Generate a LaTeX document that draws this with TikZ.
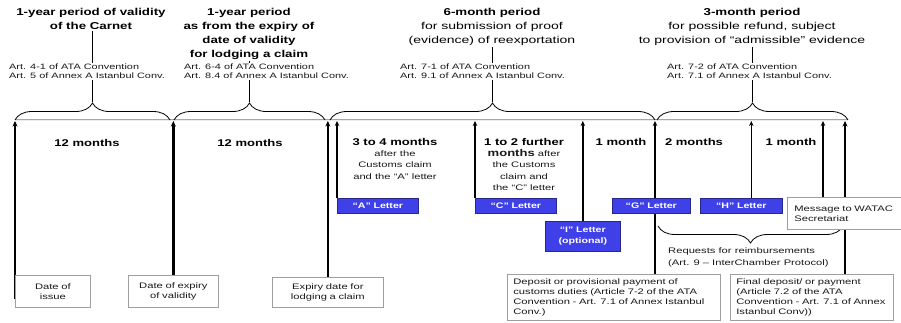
\documentclass[tikz,border=0pt]{standalone}
\usepackage{fontspec}
\setmainfont{Liberation Sans}[FakeStretch=1.4,BoldFeatures={FakeStretch=1.33}]
\usetikzlibrary{decorations.pathreplacing,arrows.meta,backgrounds}
\definecolor{lblue}{RGB}{64,64,232}
\definecolor{lborder}{RGB}{40,40,140}
\definecolor{txt}{RGB}{25,25,25}
\begin{document}
\begin{tikzpicture}[x=1pt,y=1pt,
  ttl/.style={align=center, inner sep=0pt, anchor=north, text=black, font=\fontsize{10}{14}\selectfont},
  art/.style={align=left, anchor=north west, inner sep=0pt, text=txt, font=\fontsize{7.8}{8.3}\selectfont},
  mon/.style={inner sep=0pt, text=black, font=\bfseries\fontsize{9.8}{11}\selectfont},
  sub/.style={inner sep=0pt, anchor=north, align=center, text=txt, font=\fontsize{8}{11.5}\selectfont},
  letterbox/.style={draw=lborder, line width=0.6pt, fill=lblue, text=white, anchor=north west, inner sep=0pt, align=center, font=\bfseries\fontsize{8}{10.5}\selectfont},
  wbox/.style={draw=gray!75, line width=0.7pt, fill=white, anchor=north west, inner sep=0pt, text=txt, font=\fontsize{8}{9.8}\selectfont},
  arr/.style={-{Stealth[length=5pt,width=4.5pt]}, line width=1.5pt},
  tarr/.style={-{Stealth[length=5.5pt,width=5pt]}, line width=2.4pt},
  brc/.style={decorate, decoration={brace, amplitude=17pt}, line width=0.8pt},
  conn/.style={line width=0.8pt, shorten <=1.5pt, shorten >=1.5pt},
  tline/.style={draw=gray!70, double=gray!15, double distance=1pt, line width=0.5pt},
]
\useasboundingbox (0,0) rectangle (901,-322);

% titles
\node[ttl] (t1) at (91,-8) {\textbf{1-year period of validity}\\\textbf{of the Carnet}};
\node[ttl] (t2) at (249,-8) {\textbf{1-year period}\\\textbf{as from the expiry of}\\\textbf{date of validity}\\\textbf{for lodging a claim}};
\node[ttl] (t3) at (492,-8) {\textbf{6-month period}\\for submission of proof\\(evidence) of reexportation};
\node[ttl] (t4) at (752,-8) {\textbf{3-month period}\\for possible refund, subject\\to provision of “admissible” evidence};

% article references
\node[art] (a1) at (9,-64) {Art. 4-1 of ATA Convention\\Art. 5 of Annex A Istanbul Conv.};
\node[art] (a2) at (184,-64) {Art. 6-4 of ATA Convention\\Art. 8.4 of Annex A Istanbul Conv.};
\node[art] (a3) at (400,-64) {Art. 7-1 of ATA Convention\\Art. 9.1 of Annex A Istanbul Conv.};
\node[art] (a4) at (667,-64) {Art. 7-2 of ATA Convention\\Art. 7.1 of Annex A Istanbul Conv.};

% period labels
\node[mon] (m1) at (87,-143) {12 months};
\node[mon] (m2) at (250,-143) {12 months};
\node[mon] (m3) at (395,-142) {3 to 4 months};
\node[sub] (s3) at (395,-150) {after the\\Customs claim\\and the “A” letter};
\node[mon] (m4) at (524,-142) {1 to 2 further};
\node[sub] (s4) at (524,-149) {{\bfseries\fontsize{9.8}{11.5}\selectfont months} after\\the Customs\\claim and\\the “C” letter};
\node[mon] (m5) at (621,-142) {1 month};
\node[mon] (m6) at (694,-142) {2 months};
\node[mon] (m7) at (791,-142) {1 month};

% letter boxes
\node[letterbox, minimum width=81, minimum height=15, text width=81] (A) at (337,-198) {“A” Letter};
\node[letterbox, minimum width=81, minimum height=15, text width=81] (C) at (475,-198) {“C” Letter};
\node[letterbox, minimum width=75, minimum height=30, text width=75] (I) at (545,-221) {“I” Letter\\(optional)};
\node[letterbox, minimum width=78, minimum height=15, text width=78] (G) at (612,-198) {“G” Letter};
\node[letterbox, minimum width=82, minimum height=15, text width=82] (H) at (700,-198) {“H” Letter};

% white boxes
\node[wbox, minimum width=75, minimum height=32, text width=75, align=center] (issue) at (15,-275) {Date of\\issue};
\node[wbox, minimum width=90, minimum height=32, text width=90, align=center] (valid) at (128,-275) {Date of expiry\\of validity};
\node[wbox, minimum width=111, minimum height=30, text width=111, align=center] (lodge) at (272,-277) {Expiry date for\\lodging a claim};
\node[wbox, minimum width=118, minimum height=32, text width=104, inner xsep=7pt, align=left] (msg) at (787,-197) {Message to WATAC\\Secretariat};
\node[wbox, minimum width=213, minimum height=46, text width=201, inner xsep=6pt, align=left] (dep) at (507,-274) {Deposit or provisional payment of\\customs duties (Article 7-2 of the ATA\\Convention - Art. 7.1 of Annex Istanbul\\Conv.)};
\node[wbox, minimum width=163, minimum height=46, text width=151, inner xsep=6pt, align=left] (fin) at (730,-274) {Final deposit/ or payment\\(Article 7.2 of the ATA\\Convention - Art. 7.1 of Annex\\Istanbul Conv))};
\node[inner sep=0pt, anchor=north west, align=left, text=txt, font=\fontsize{8}{12}\selectfont] (req) at (668,-247) {Requests for reimbursements\\(Art. 9 – InterChamber Protocol)};

% coordinates
\coordinate (tl) at (0,-121);
\coordinate (b1) at (92.5,-103);
\coordinate (b2) at (249.5,-103);
\coordinate (b3) at (492.5,-103);
\coordinate (b4) at (752.5,-103);
\coordinate (gfoot) at (655,-274);

\begin{scope}[on background layer]
\fill[white] (0,0) rectangle (901,-322);
\draw[tline] (15,-120) -- (848,-120);
\draw[brc] (15,-120) -- (170,-120);
\draw[brc] (174,-120) -- (325,-120);
\draw[brc] (330,-120) -- (655,-120);
\draw[brc] (657,-120) -- (848,-120);
\draw[brc] (843,-226) -- (658,-226);

\draw[conn] (t1.south -| b1) -- (a1.north -| b1);
\draw[conn] (t2.south -| b2) -- (a2.north -| b2);
\draw[conn] (t3.south -| b3) -- (a3.north -| b3);
\draw[conn] (t4.south -| b4) -- (a4.north -| b4);
\draw[conn] (a1.south -| b1) -- (b1);
\draw[conn] (a2.south -| b2) -- (b2);
\draw[conn] (a3.south -| b3) -- (b3);
\draw[conn] (a4.south -| b4) -- (b4);

\draw[tarr] ([yshift=9pt]issue.south west) -- (issue.south west |- tl);
\draw[tarr] (valid.north) -- (valid.north |- tl);
\draw[tarr] (lodge.north) -- (lodge.north |- tl);
\draw[arr] (A.north west) -- (A.north west |- tl);
\draw[arr] (C.north west) -- (C.north west |- tl);
\draw[arr] (I.north) -- (I.north |- tl);
\draw[arr] (gfoot) -- (gfoot |- tl);
\draw[arr] ([xshift=10pt]H.north) -- ([xshift=10pt]H.north |- tl);
\draw[arr] ([xshift=36pt]msg.north west) -- ([xshift=36pt]msg.north west |- tl);
\draw[tarr] ([xshift=115pt]fin.north west) -- ([xshift=115pt]fin.north west |- tl);
\end{scope}
\end{tikzpicture}
\end{document}
